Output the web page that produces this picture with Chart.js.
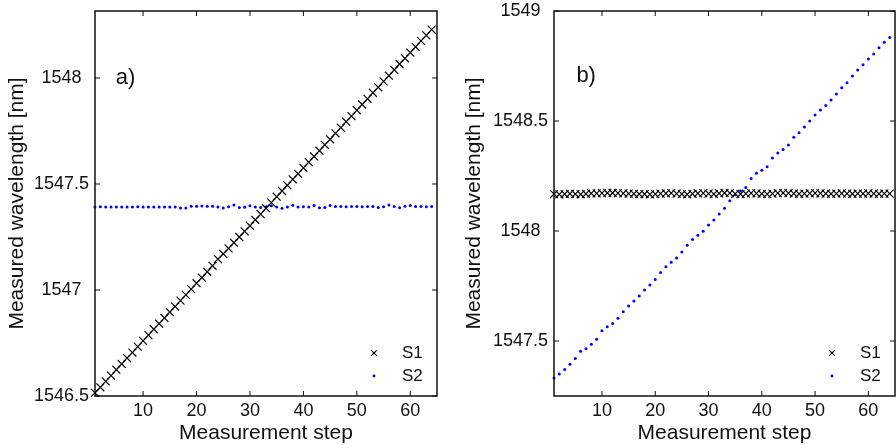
<!DOCTYPE html>
<html>
<head>
<meta charset="utf-8">
<script src="https://cdn.jsdelivr.net/npm/chart.js@4/dist/chart.umd.min.js"></script>
<style>
body { margin: 0; background: #fff; }
#wrap { display: flex; width: 896px; height: 448px; }
canvas { display: block; }
</style>
</head>
<body>
<div id="wrap">
<canvas id="chartA" width="448" height="448"></canvas>
<canvas id="chartB" width="448" height="448"></canvas>
</div>
<script>
'use strict';

let steps = [1, 2, 3, 4, 5, 6, 7, 8, 9, 10, 11, 12, 13, 14, 15, 16, 17, 18, 19, 20,
    21, 22, 23, 24, 25, 26, 27, 28, 29, 30, 31, 32, 33, 34, 35, 36, 37, 38, 39, 40,
    41, 42, 43, 44, 45, 46, 47, 48, 49, 50, 51, 52, 53, 54, 55, 56, 57, 58, 59, 60,
    61, 62, 63, 64];

let xTicks = [10, 20, 30, 40, 50, 60];
let yTicksA = [1546.5, 1547, 1547.5, 1548];
let yTicksB = [1547.5, 1548, 1548.5, 1549];

// panel a) : S1 is swept, S2 stays put
let s1A = [1546.515, 1546.541, 1546.569, 1546.596, 1546.624, 1546.651, 1546.679, 1546.705, 1546.733, 1546.760,
    1546.787, 1546.815, 1546.841, 1546.868, 1546.896, 1546.922, 1546.950, 1546.977, 1547.004, 1547.032,
    1547.058, 1547.086, 1547.114, 1547.146, 1547.170, 1547.196, 1547.223, 1547.250, 1547.277, 1547.303,
    1547.331, 1547.358, 1547.386, 1547.412, 1547.440, 1547.467, 1547.494, 1547.522, 1547.548, 1547.576,
    1547.603, 1547.630, 1547.657, 1547.685, 1547.711, 1547.739, 1547.766, 1547.794, 1547.820, 1547.848,
    1547.875, 1547.902, 1547.930, 1547.956, 1547.984, 1548.011, 1548.038, 1548.066, 1548.093, 1548.120,
    1548.147, 1548.175, 1548.201, 1548.228];
let s2A = [1547.392, 1547.393, 1547.392, 1547.392, 1547.391, 1547.391, 1547.392, 1547.392, 1547.393, 1547.392,
    1547.392, 1547.392, 1547.391, 1547.392, 1547.392, 1547.391, 1547.387, 1547.387, 1547.395, 1547.395,
    1547.396, 1547.395, 1547.395, 1547.392, 1547.387, 1547.393, 1547.401, 1547.389, 1547.390, 1547.397,
    1547.392, 1547.389, 1547.393, 1547.397, 1547.392, 1547.386, 1547.392, 1547.400, 1547.391, 1547.393,
    1547.391, 1547.398, 1547.388, 1547.389, 1547.398, 1547.394, 1547.394, 1547.393, 1547.394, 1547.394,
    1547.393, 1547.394, 1547.394, 1547.389, 1547.393, 1547.401, 1547.394, 1547.388, 1547.395, 1547.399,
    1547.394, 1547.394, 1547.393, 1547.394];

// panel b) : S2 is swept, S1 stays put
let s1B = [1548.168, 1548.167, 1548.168, 1548.169, 1548.168, 1548.167, 1548.169, 1548.171, 1548.171, 1548.172,
    1548.173, 1548.173, 1548.172, 1548.171, 1548.170, 1548.169, 1548.168, 1548.168, 1548.167, 1548.168,
    1548.170, 1548.171, 1548.172, 1548.170, 1548.168, 1548.167, 1548.169, 1548.171, 1548.172, 1548.170,
    1548.168, 1548.171, 1548.173, 1548.172, 1548.169, 1548.168, 1548.170, 1548.172, 1548.171, 1548.169,
    1548.168, 1548.170, 1548.172, 1548.173, 1548.172, 1548.170, 1548.169, 1548.170, 1548.171, 1548.172,
    1548.171, 1548.170, 1548.169, 1548.170, 1548.171, 1548.170, 1548.169, 1548.170, 1548.170, 1548.171,
    1548.170, 1548.169, 1548.170, 1548.170];
let s2B = [1547.332, 1547.350, 1547.370, 1547.394, 1547.421, 1547.453, 1547.465, 1547.485, 1547.508, 1547.547,
    1547.565, 1547.580, 1547.603, 1547.633, 1547.659, 1547.682, 1547.705, 1547.732, 1547.755, 1547.780,
    1547.811, 1547.838, 1547.858, 1547.877, 1547.905, 1547.935, 1547.961, 1547.981, 1547.999, 1548.027,
    1548.050, 1548.077, 1548.103, 1548.138, 1548.165, 1548.182, 1548.198, 1548.239, 1548.262, 1548.276,
    1548.292, 1548.332, 1548.355, 1548.371, 1548.391, 1548.426, 1548.447, 1548.473, 1548.500, 1548.527,
    1548.550, 1548.571, 1548.595, 1548.623, 1548.651, 1548.674, 1548.705, 1548.732, 1548.756, 1548.782,
    1548.805, 1548.833, 1548.858, 1548.879];

const FONT = '"Liberation Sans", Arial, sans-serif';
Chart.defaults.font.family = FONT;
Chart.defaults.color = '#111';

function toPoints(ys) {
    return steps.map((s, i) => ({x: s, y: ys[i]}));
}

// box round the plot area with short ticks pointing inwards on all four sides
const frameTicks = {
    id: 'frameTicks',
    afterDatasetsDraw(chart) {
        let ctx = chart.ctx;
        let a = chart.chartArea;
        let x = chart.scales.x;
        let y = chart.scales.y;
        ctx.save();
        ctx.strokeStyle = '#111';
        ctx.lineWidth = 1.5;
        ctx.strokeRect(a.left, a.top, a.right - a.left, a.bottom - a.top);
        ctx.lineWidth = 1;
        ctx.beginPath();
        x.ticks.forEach(t => {
            let px = x.getPixelForValue(t.value);
            ctx.moveTo(px, a.bottom); ctx.lineTo(px, a.bottom - 5);
            ctx.moveTo(px, a.top); ctx.lineTo(px, a.top + 5);
        });
        y.ticks.forEach(t => {
            let py = y.getPixelForValue(t.value);
            ctx.moveTo(a.left, py); ctx.lineTo(a.left + 5, py);
            ctx.moveTo(a.right, py); ctx.lineTo(a.right - 5, py);
        });
        ctx.stroke();
        ctx.restore();
    }
};

// legend sitting in the lower right corner of the plot
const cornerLegend = {
    id: 'cornerLegend',
    afterDraw(chart) {
        let ctx = chart.ctx;
        let a = chart.chartArea;
        ctx.save();
        chart.data.datasets.forEach((ds, i) => {
            let my = a.bottom - 43 + i * 23;
            let mx = a.right - 63;
            ctx.strokeStyle = ds.pointBorderColor;
            ctx.fillStyle = ds.pointBackgroundColor;
            ctx.lineWidth = 1.2;
            Chart.helpers.drawPoint(ctx, {
                pointStyle: ds.pointStyle,
                radius: ds.pointStyle === 'circle' ? 1.4 : 3.8,
                rotation: 0,
                borderWidth: ds.pointBorderWidth
            }, mx, my);
            ctx.fillStyle = '#111';
            ctx.font = '17px ' + FONT;
            ctx.textAlign = 'left';
            ctx.textBaseline = 'middle';
            ctx.fillText(ds.label, a.right - 35, my);
        });
        ctx.restore();
    }
};

// a) / b) tag placed in data coordinates
const panelTag = {
    id: 'panelTag',
    afterDraw(chart, args, opts) {
        let ctx = chart.ctx;
        ctx.save();
        ctx.fillStyle = '#111';
        ctx.font = '22px ' + FONT;
        ctx.textAlign = 'left';
        ctx.textBaseline = 'middle';
        ctx.fillText(opts.text, chart.scales.x.getPixelForValue(opts.x), chart.scales.y.getPixelForValue(opts.y));
        ctx.restore();
    }
};

function makePanel(id, cfg) {
    let ctx = document.getElementById(id).getContext('2d');
    return new Chart(ctx, {
        type: 'scatter',
        data: {
            datasets: [
                {
                    label: 'S1',
                    data: toPoints(cfg.s1),
                    pointStyle: 'crossRot',
                    pointRadius: 5.6,
                    pointBorderWidth: 1.2,
                    pointBorderColor: '#000',
                    pointBackgroundColor: '#000',
                    clip: false
                },
                {
                    label: 'S2',
                    data: toPoints(cfg.s2),
                    pointStyle: 'circle',
                    pointRadius: 1.5,
                    pointBorderWidth: 0,
                    pointBorderColor: '#0000ff',
                    pointBackgroundColor: '#0000ff',
                    clip: false
                }
            ]
        },
        options: {
            responsive: false,
            animation: false,
            events: [],
            layout: {autoPadding: false, padding: {top: 11, right: cfg.padRight, left: 0, bottom: 0}},
            plugins: {
                legend: {display: false},
                tooltip: {enabled: false},
                panelTag: cfg.tag
            },
            scales: {
                x: {
                    type: 'linear',
                    min: 1,
                    max: 65,
                    grid: {display: false, drawTicks: false},
                    border: {display: false},
                    ticks: {padding: 4, font: {size: 18}, maxRotation: 0},
                    afterBuildTicks: s => { s.ticks = xTicks.map(v => ({value: v})); },
                    afterFit: s => {
                        s.height = 52;
                        s.paddingLeft = 0;
                        s.paddingRight = 0;
                    },
                    title: {display: true, text: 'Measurement step', font: {size: 21}, padding: {top: 0, bottom: 2}}
                },
                y: {
                    type: 'linear',
                    min: cfg.yMin,
                    max: cfg.yMax,
                    grid: {display: false, drawTicks: false},
                    border: {display: false},
                    ticks: {padding: 6, font: {size: 18}, crossAlign: 'center', callback: v => String(v)},
                    afterBuildTicks: s => { s.ticks = cfg.yTicks.map(v => ({value: v})); },
                    afterFit: s => {
                        s.width = cfg.yWidth;
                        s.paddingTop = 0;
                        s.paddingBottom = 0;
                    },
                    title: {display: true, text: 'Measured wavelength [nm]', font: {size: 21}, padding: {top: cfg.titlePad, bottom: 0}}
                }
            }
        },
        plugins: [frameTicks, cornerLegend, panelTag]
    });
}

makePanel('chartA', {
    s1: s1A, s2: s2A,
    yMin: 1546.5, yMax: 1548.316, yTicks: yTicksA,
    yWidth: 95, padRight: 11, titlePad: 5,
    tag: {text: 'a)', x: 4.9, y: 1548}
});

makePanel('chartB', {
    s1: s1B, s2: s2B,
    yMin: 1547.25, yMax: 1549, yTicks: yTicksB,
    yWidth: 106, padRight: 1, titlePad: 14,
    tag: {text: 'b)', x: 5.2, y: 1548.705}
});
</script>
</body>
</html>
